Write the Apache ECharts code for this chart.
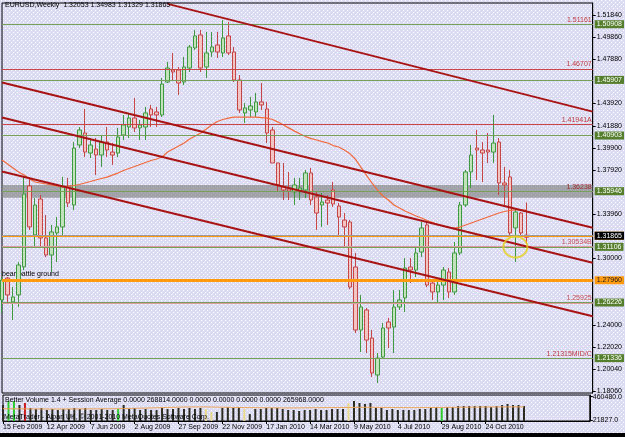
<!DOCTYPE html>
<html>
<head>
<meta charset="utf-8">
<title>EURUSD,Weekly</title>
<script src="https://cdn.jsdelivr.net/npm/echarts@6/dist/echarts.min.js"></script>
<style>
html, body { margin: 0; padding: 0; background: #dfdff5; }
#chart { width: 625px; height: 437px; }
</style>
</head>
<body>
<div id="chart"></div>
<script>
// weekly bars, first bar = week of 15 Feb 2009
const firstWeek = Date.UTC(2009, 1, 15);
const totalWeeks = 108;          // 96 bars + empty shift on the right
const labelEvery = 8;            // a date label every 8 weeks
const lastLabelIndex = 88;

const opens = [
  1.2623, 1.2820, 1.2605, 1.2668, 1.2920, 1.3647, 1.3207, 1.3530, 1.3180, 1.3027,
  1.3225, 1.3279, 1.3638, 1.3476, 1.4015, 1.4123, 1.3943, 1.3979, 1.3925, 1.4042,
  1.3952, 1.3943, 1.4105, 1.4177, 1.4258, 1.4168, 1.4177, 1.4339, 1.4312, 1.4285,
  1.4581, 1.4689, 1.4689, 1.4581, 1.4707, 1.4887, 1.5004, 1.4716, 1.4851, 1.4914,
  1.4842, 1.4995, 1.4851, 1.4599, 1.4303, 1.4330, 1.4312, 1.4402, 1.4339, 1.4150,
  1.3854, 1.3638, 1.3620, 1.3593, 1.3593, 1.3611, 1.3764, 1.3548, 1.3476, 1.3521,
  1.3611, 1.3467, 1.3341, 1.3323, 1.2919, 1.2353, 1.2533, 1.2281, 1.1949, 1.2110,
  1.2425, 1.2380, 1.2560, 1.2641, 1.2919, 1.2892, 1.3054, 1.3297, 1.2775, 1.2695,
  1.2757, 1.2874, 1.2695, 1.3045, 1.3476, 1.3773, 1.3988, 1.3970, 1.3970, 1.3952,
  1.4042, 1.3674, 1.3728, 1.3270, 1.3404, 1.32053
];
const closes = [
  1.2802, 1.2668, 1.2650, 1.2937, 1.3575, 1.3279, 1.3476, 1.3180, 1.3027, 1.3234,
  1.3279, 1.3638, 1.3494, 1.3988, 1.4150, 1.3952, 1.4015, 1.3925, 1.4042, 1.3970,
  1.3925, 1.4087, 1.4195, 1.4258, 1.4168, 1.4195, 1.4303, 1.4285, 1.4285, 1.4563,
  1.4707, 1.4671, 1.4572, 1.4716, 1.4896, 1.4995, 1.4707, 1.4842, 1.4896, 1.4851,
  1.4977, 1.4842, 1.4599, 1.4330, 1.4348, 1.4366, 1.4402, 1.4375, 1.4123, 1.3854,
  1.3656, 1.3611, 1.3602, 1.3656, 1.3629, 1.3764, 1.3521, 1.3404, 1.3503, 1.3494,
  1.3485, 1.3368, 1.3279, 1.2739, 1.2353, 1.2560, 1.2263, 1.1967, 1.2101, 1.2371,
  1.2371, 1.2560, 1.2623, 1.2910, 1.2892, 1.3045, 1.3270, 1.2757, 1.2695, 1.2757,
  1.2892, 1.2695, 1.3045, 1.3476, 1.3773, 1.3925, 1.3970, 1.3943, 1.3952, 1.4033,
  1.3674, 1.3656, 1.3225, 1.3413, 1.3225, 1.31865
];
const lows = [
  1.2506, 1.2596, 1.2443, 1.2560, 1.2890, 1.3252, 1.3099, 1.3099, 1.3009, 1.2874,
  1.2964, 1.3207, 1.3458, 1.3431, 1.3988, 1.3907, 1.3898, 1.3746, 1.3818, 1.3907,
  1.3836, 1.3907, 1.4060, 1.4078, 1.4132, 1.4060, 1.4060, 1.4177, 1.4177, 1.4267,
  1.4572, 1.4599, 1.4465, 1.4554, 1.4671, 1.4869, 1.4671, 1.4617, 1.4806, 1.4797,
  1.4806, 1.4824, 1.4581, 1.4303, 1.4213, 1.4267, 1.4267, 1.4330, 1.4033, 1.3854,
  1.3593, 1.3521, 1.3521, 1.3476, 1.3521, 1.3539, 1.3476, 1.3252, 1.3279, 1.3297,
  1.3458, 1.3189, 1.3099, 1.2720, 1.2326, 1.2155, 1.2146, 1.1931, 1.1877, 1.2101,
  1.2191, 1.2146, 1.2533, 1.2515, 1.2775, 1.2829, 1.3009, 1.2739, 1.2623, 1.2596,
  1.2623, 1.2641, 1.2668, 1.3027, 1.3458, 1.3629, 1.3701, 1.3683, 1.3854, 1.3854,
  1.3566, 1.3476, 1.3189, 1.2964, 1.3207, 1.31329
];
const highs = [
  1.2829, 1.2829, 1.2739, 1.2964, 1.3728, 1.3728, 1.3539, 1.3566, 1.3386, 1.3297,
  1.3368, 1.3728, 1.3719, 1.4042, 1.4177, 1.4339, 1.4078, 1.4078, 1.4105, 1.4177,
  1.4033, 1.4168, 1.4285, 1.4303, 1.4438, 1.4240, 1.4357, 1.4375, 1.4357, 1.4617,
  1.4761, 1.4842, 1.4716, 1.4806, 1.4914, 1.5049, 1.5049, 1.5031, 1.5031, 1.5031,
  1.5138, 1.5120, 1.4896, 1.4644, 1.4393, 1.4447, 1.4483, 1.4572, 1.4402, 1.4177,
  1.3854, 1.3854, 1.3773, 1.3719, 1.3719, 1.3791, 1.3809, 1.3593, 1.3584, 1.3566,
  1.3683, 1.3494, 1.3404, 1.3341, 1.3045, 1.2668, 1.2551, 1.2353, 1.2146, 1.2416,
  1.2461, 1.2712, 1.2712, 1.3000, 1.3000, 1.3099, 1.3323, 1.3323, 1.2802, 1.2802,
  1.2919, 1.2910, 1.3144, 1.3503, 1.3791, 1.4015, 1.4150, 1.4042, 1.4123, 1.4285,
  1.4078, 1.3818, 1.3791, 1.3449, 1.3413, 1.34983
];
// moving average
const maValues = [
  1.3880, 1.3844, 1.3808, 1.3772, 1.3745, 1.3710, 1.3683, 1.3674, 1.3665, 1.3656,
  1.3647, 1.3638, 1.3647, 1.3651, 1.3660, 1.3674, 1.3687, 1.3701, 1.3714, 1.3727,
  1.3745, 1.3763, 1.3786, 1.3804, 1.3822, 1.3840, 1.3858, 1.3876, 1.3889, 1.3907,
  1.3952, 1.3979, 1.4006, 1.4033, 1.4069, 1.4096, 1.4123, 1.4158, 1.4194, 1.4226,
  1.4244, 1.4257, 1.4266, 1.4266, 1.4266, 1.4266, 1.4266, 1.4262, 1.4257, 1.4244,
  1.4221, 1.4194, 1.4167, 1.4140, 1.4114, 1.4091, 1.4073, 1.4060, 1.4046, 1.4033,
  1.4010, 1.3997, 1.3970, 1.3938, 1.3889, 1.3817, 1.3745, 1.3674, 1.3611, 1.3557,
  1.3521, 1.3476, 1.3449, 1.3422, 1.3400, 1.3377, 1.3359, 1.3337, 1.3319, 1.3301,
  1.3287, 1.3274, 1.3269, 1.3278, 1.3296, 1.3314, 1.3332, 1.3350, 1.3368, 1.3386,
  1.3404, 1.3418, 1.3427, 1.3431, 1.3431, 1.3431
];
const volumes = [
  301500, 377000, 377000, 301500, 339200, 245000, 226200, 245000, 207300, 226200,
  207300, 226200, 226200, 245000, 226200, 245000, 207300, 207300, 226200, 207300,
  207300, 226200, 301500, 226200, 245000, 207300, 226200, 207300, 207300, 245000,
  226200, 226200, 245000, 226200, 245000, 226200, 245000, 226200, 169600, 169600,
  245000, 263800, 245000, 263800, 226200, 131900, 226200, 226200, 245000, 245000,
  245000, 226200, 207300, 207300, 188500, 207300, 207300, 226200, 207300, 207300,
  226200, 226200, 226200, 339200, 377000, 339200, 320400, 339200, 245000, 245000,
  207300, 226200, 207300, 207300, 207300, 207300, 226200, 226200, 245000, 263800,
  245000, 263800, 263800, 282700, 282700, 282700, 282700, 282700, 282700, 263800,
  282700, 301500, 320400, 301500, 301500, 282700
];
// d = normal, g = climax, r = climax down, y = low volume
const volumeKinds = 'dggdrddddddddddddddddgdddddddddddddddyydddddyddddddddddddddddddyddddddddddddddddgdddddddddddddddd';
const volumeAverage = [
  232000, 231000, 230000, 229000, 229000, 228000, 228000, 227000, 227000, 226000,
  226000, 226000, 227000, 227000, 228000, 228000, 229000, 229000, 230000, 231000,
  232000, 233000, 235000, 237000, 239000, 241000, 243000, 246000, 249000, 252000,
  255000, 258000, 261000, 263000, 265000, 266000, 266000, 265000, 264000, 262000,
  260000, 258000, 256000, 254000, 253000, 252000, 251000, 250000, 249000, 248000,
  247000, 246000, 246000, 246000, 247000, 248000, 249000, 250000, 251000, 252000,
  253000, 254000, 255000, 256000, 257000, 258000, 258000, 258000, 257000, 256000,
  255000, 254000, 253000, 252000, 252000, 252000, 252000, 253000, 254000, 255000,
  256000, 257000, 258000, 259000, 260000, 261000, 262000, 263000, 264000, 265000,
  266000, 266000, 266000, 266000, 266000, 266000
];

// horizontal objects
const redLevels = [1.51161, 1.46707, 1.41941, 1.36238, 1.21315];
const redLevelNames = ['1.51161', '1.46707', '1.41941A', '1.36238', '1.21315MID/C'];
const pinkLevels = [1.30534, 1.25925];
const pinkLevelNames = ['1.30534B', '1.25925'];
const greenLevels = [1.50908, 1.45907, 1.40903, 1.35946, 1.31106, 1.26226, 1.21336];
const orangeLevels = [1.31980, 1.27960];
const grayZone = [1.3542, 1.3656];
// channel lines: [fromBar, fromPrice, toBar, toPrice]
const channels = [
  [30, 1.5283, 107, 1.4315],
  [0, 1.4577, 107, 1.3271],
  [0, 1.4262, 107, 1.2957],
  [0, 1.3777, 107, 1.2477]
];
const circleMark = [93, 1.3099];

const priceTicks = [1.18060, 1.20040, 1.22020, 1.24000, 1.30000, 1.33960, 1.37920,
                    1.39900, 1.41880, 1.43920, 1.47880, 1.49860, 1.51840];
const volumeTicks = [21827, 460480];

const MONTHS = ['Jan','Feb','Mar','Apr','May','Jun','Jul','Aug','Sep','Oct','Nov','Dec'];
const weeks = [];
for (let i = 0; i < totalWeeks; i++) {
  const d = new Date(firstWeek + i * 7 * 86400000);
  weeks.push(d.getUTCDate() + ' ' + MONTHS[d.getUTCMonth()] + ' ' + d.getUTCFullYear());
}

const FONT = '"Liberation Sans Narrow", "Liberation Sans", sans-serif';
const showTick = (i) => i % labelEvery === 0 && i <= lastLabelIndex;

const candles = opens.map((o, i) => [o, closes[i], lows[i], highs[i]]);
const last = candles[candles.length - 1];
const header = 'EURUSD,Weekly  ' + [last[0], last[3], last[2], last[1]].map(v => v.toFixed(5)).join(' ');

const volColors = { d: '#2c2c22', g: '#2ecc2e', r: '#cc1a1a', y: '#e8d890' };

// dotted chart background
const bg = document.createElement('canvas');
bg.width = 4; bg.height = 4;
const ctx = bg.getContext('2d');
ctx.fillStyle = '#dbdbf3';
ctx.fillRect(0, 0, 4, 4);
ctx.fillStyle = '#ffffff';
ctx.fillRect(1, 0, 1, 1);
ctx.fillRect(3, 2, 1, 1);

const levelLines = [];
redLevels.forEach((v, i) => levelLines.push({
  yAxis: v,
  lineStyle: { color: '#c84646', width: 1, type: 'solid' },
  label: { show: true, position: 'insideEndTop', formatter: redLevelNames[i], color: i === 3 ? '#9a2a2a' : '#c03c3c',
           fontSize: 7, fontFamily: FONT, distance: 1 }
}));
pinkLevels.forEach((v, i) => levelLines.push({
  yAxis: v,
  lineStyle: { color: '#dc9c9c', width: 2, type: 'solid' },
  label: { show: true, position: 'insideEndTop', formatter: pinkLevelNames[i], color: '#c85050',
           fontSize: 7, fontFamily: FONT, distance: 1 }
}));
greenLevels.forEach(v => levelLines.push({
  yAxis: v,
  lineStyle: { color: '#76a05a', width: 1, type: 'solid' },
  label: { show: true, position: 'end', formatter: v.toFixed(5), color: '#ffffff', backgroundColor: '#557f2c',
           padding: [1, 2, 0, 2], fontSize: 7, fontFamily: FONT, distance: 2 }
}));
orangeLevels.forEach((v, i) => levelLines.push({
  yAxis: v,
  lineStyle: { color: '#ff9a10', width: i === 0 ? 2 : 3, type: 'solid' },
  label: { show: true, position: 'end', formatter: v.toFixed(5), color: '#222', backgroundColor: '#ff9a10',
           padding: [1, 2, 0, 2], fontSize: 7, fontFamily: FONT, distance: 2 }
}));
levelLines.push({
  yAxis: last[1],
  lineStyle: { color: '#9a9aa0', width: 1, type: 'solid' },
  label: { show: true, position: 'end', formatter: last[1].toFixed(5), color: '#ffffff', backgroundColor: '#000000',
           padding: [1, 2, 0, 2], fontSize: 7, fontFamily: FONT, distance: 2 }
});

const chart = echarts.init(document.getElementById('chart'));
const option = {
  animation: false,
  backgroundColor: { image: bg, repeat: 'repeat' },
  grid: [
    { left: 2, top: 3, width: 593, height: 390, show: true, borderColor: '#000', borderWidth: 1, backgroundColor: 'transparent' },
    { left: 2, top: 395, width: 593, height: 26, show: true, borderColor: '#000', borderWidth: 1, backgroundColor: 'transparent' }
  ],
  xAxis: [
    { type: 'category', gridIndex: 0, data: weeks, boundaryGap: false, show: false },
    {
      type: 'category', gridIndex: 1, data: weeks, boundaryGap: false,
      axisLine: { lineStyle: { color: '#000' } },
      axisTick: { interval: showTick, length: 3, lineStyle: { color: '#000' } },
      axisLabel: { interval: showTick, align: 'left', margin: 3, fontSize: 7, fontFamily: FONT, color: '#000' },
      splitLine: { show: false }
    }
  ],
  yAxis: [
    {
      type: 'value', gridIndex: 0, position: 'right', min: 1.1787, max: 1.5291, scale: true,
      splitLine: { show: false },
      axisLine: { show: true, lineStyle: { color: '#000' } },
      axisTick: { show: true, length: 3, customValues: priceTicks, lineStyle: { color: '#000' } },
      axisLabel: { customValues: priceTicks, formatter: v => v.toFixed(5), margin: 4,
                   fontSize: 7, fontFamily: FONT, color: '#000' }
    },
    {
      type: 'value', gridIndex: 1, position: 'right', min: 0, max: 490000,
      splitLine: { show: false },
      axisLine: { show: true, lineStyle: { color: '#000' } },
      axisTick: { show: true, length: 3, customValues: volumeTicks, lineStyle: { color: '#000' } },
      axisLabel: { customValues: volumeTicks, formatter: v => v.toFixed(1), margin: 3,
                   fontSize: 7, fontFamily: FONT, color: '#000' }
    }
  ],
  graphic: [
    { type: 'text', left: 5, top: 2, z: 10, style: { text: header, fontSize: 7, fontFamily: FONT, fill: '#000' } },
    { type: 'text', left: 2, top: 271, z: 1, style: { text: 'bear battle ground', fontSize: 7, fontFamily: FONT, fill: '#000' } },
    { type: 'text', left: 5, top: 397, z: 10,
      style: { text: 'Better Volume 1.4 + Session Average 0.0000 268814.0000 0.0000 0.0000 0.0000 0.0000 265968.0000',
               fontSize: 7, fontFamily: FONT, fill: '#000' } },
    { type: 'text', left: 4, top: 414, z: 10,
      style: { text: 'MetaTrader - Alpari UK, \u00a9 2001-2010 MetaQuotes Software Corp.', fontSize: 7, fontFamily: FONT, fill: '#000' } },
    { type: 'rect', left: 0, top: 433, z: 10, shape: { width: 625, height: 4 }, style: { fill: '#000' } }
  ],
  series: [
    {
      name: 'EURUSD', type: 'candlestick', xAxisIndex: 0, yAxisIndex: 0, z: 2,
      data: candles, barWidth: 4,
      itemStyle: { color: '#c2e2bc', color0: '#f2c4c4', borderColor: '#3f9a3f', borderColor0: '#c64545', borderWidth: 1 },
      markArea: {
        silent: true,
        itemStyle: { color: 'rgba(130,130,130,0.66)' },
        data: [[{ yAxis: grayZone[0] }, { yAxis: grayZone[1] }]]
      },
      markLine: { silent: true, symbol: ['none', 'none'], animation: false, data: levelLines }
    },
    {
      name: 'MA', type: 'line', xAxisIndex: 0, yAxisIndex: 0, z: 3,
      data: maValues, showSymbol: false, symbol: 'none',
      lineStyle: { color: '#f26a3c', width: 1.2 },
      markLine: {
        silent: true, symbol: ['none', 'none'], animation: false,
        label: { show: false },
        lineStyle: { color: '#a81414', width: 2, type: 'solid' },
        data: channels.map(c => [{ coord: [c[0], c[1]] }, { coord: [c[2], c[3]] }])
      }
    },
    {
      name: 'mark', type: 'scatter', xAxisIndex: 0, yAxisIndex: 0, z: 6,
      data: [circleMark], symbol: 'circle', symbolSize: [24, 21],
      itemStyle: { color: 'rgba(0,0,0,0)', borderColor: '#e6cf1e', borderWidth: 2 }
    },
    {
      name: 'Volume', type: 'bar', xAxisIndex: 1, yAxisIndex: 1, barWidth: 2,
      data: volumes.map((v, i) => ({ value: v, itemStyle: { color: volColors[volumeKinds[i]] } }))
    },
    {
      name: 'Session Average', type: 'line', xAxisIndex: 1, yAxisIndex: 1,
      data: volumeAverage, symbol: 'none', lineStyle: { color: '#eca55a', width: 1 }
    }
  ]
};
chart.setOption(option);
</script>
</body>
</html>
